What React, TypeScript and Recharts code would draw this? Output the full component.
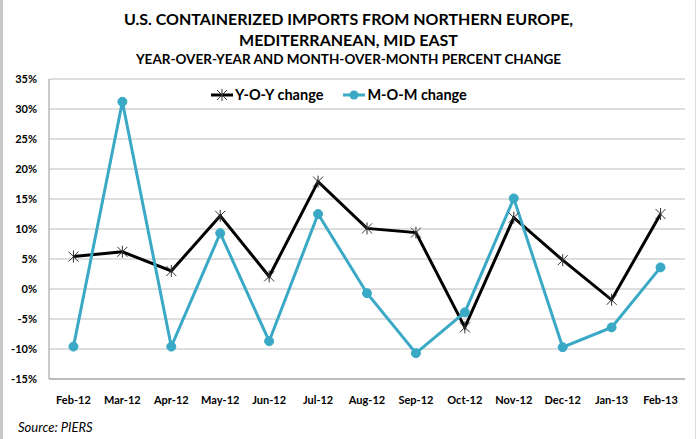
import {
  CartesianGrid,
  Line,
  LineChart,
  XAxis,
  YAxis,
} from "recharts";

const months = [
  "Feb-12",
  "Mar-12",
  "Apr-12",
  "May-12",
  "Jun-12",
  "Jul-12",
  "Aug-12",
  "Sep-12",
  "Oct-12",
  "Nov-12",
  "Dec-12",
  "Jan-13",
  "Feb-13",
];
const yoyChange = [5.4, 6.2, 3.0, 12.2, 2.1, 17.9, 10.1, 9.4, -6.4, 11.9, 4.8, -1.8, 12.5];
const momChange = [-9.6, 31.2, -9.6, 9.3, -8.7, 12.5, -0.7, -10.7, -3.9, 15.1, -9.7, -6.4, 3.6];
const yTicks = [-15, -10, -5, 0, 5, 10, 15, 20, 25, 30, 35];

const TEAL = "#3aa9c6";
const FONT = "Lato, 'Open Sans', sans-serif";

const data = months.map((month, i) => ({
  month,
  yoy: yoyChange[i],
  mom: momChange[i],
}));

function StarDot(props: any) {
  const { cx, cy } = props;
  if (cx == null || cy == null) return null;
  const r = 5;
  return (
    <g stroke="#333" strokeWidth={1}>
      <line x1={cx - r} y1={cy - r} x2={cx + r} y2={cy + r} />
      <line x1={cx - r} y1={cy + r} x2={cx + r} y2={cy - r} />
      <line x1={cx} y1={cy - r - 1} x2={cx} y2={cy + r + 1} />
    </g>
  );
}

function LegendItem({ label, color, star }: { label: string; color: string; star: boolean }) {
  return (
    <span style={{ display: "inline-flex", alignItems: "center", marginRight: 20 }}>
      <svg width={22} height={14} style={{ marginRight: 2 }}>
        <line x1={0} y1={7} x2={22} y2={7} stroke={color} strokeWidth={3} />
        {star ? (
          <StarDot cx={11} cy={7} />
        ) : (
          <circle cx={11} cy={7} r={4.5} fill={color} />
        )}
      </svg>
      {label}
    </span>
  );
}

export default function App() {
  return (
    <div
      style={{
        position: "absolute",
        left: 0,
        top: 0,
        width: 697,
        height: 439,
        background: "#fff",
        fontFamily: FONT,
        overflow: "hidden",
      }}
    >
      <div style={{ position: "absolute", left: 0, top: 0, width: 3, height: 439, background: "#c8c8c8" }} />
      <div style={{ position: "absolute", left: 695, top: 0, width: 1, height: 439, background: "#dcdcdc" }} />

      <div
        style={{
          position: "absolute",
          left: 0,
          width: 697,
          top: 8,
          textAlign: "center",
          fontWeight: 700,
          color: "#000",
        }}
      >
        <div style={{ fontSize: 16, lineHeight: "21px" }}>
          U.S. CONTAINERIZED IMPORTS FROM NORTHERN EUROPE,
        </div>
        <div style={{ fontSize: 16, lineHeight: "21px" }}>MEDITERRANEAN, MID EAST</div>
        <div style={{ fontSize: 13.5, lineHeight: "18px" }}>
          YEAR-OVER-YEAR AND MONTH-OVER-MONTH PERCENT CHANGE
        </div>
      </div>

      <LineChart
        width={697}
        height={439}
        data={data}
        margin={{ top: 79, right: 12, bottom: 30, left: 0 }}
      >
        <CartesianGrid vertical={false} stroke="#bdbdbd" />
        <XAxis
          dataKey="month"
          scale="band"
          axisLine={{ stroke: "#999" }}
          tickLine={false}
          tickMargin={11}
          interval={0}
          tick={{ fill: "#000", fontSize: 11, fontWeight: 700, fontFamily: FONT }}
        />
        <YAxis
          width={49}
          domain={[-15, 35]}
          ticks={yTicks}
          tickFormatter={(v: number) => `${v}%`}
          axisLine={{ stroke: "#999" }}
          tickLine={false}
          tickMargin={6}
          tick={{ fill: "#000", fontSize: 11, fontWeight: 700, fontFamily: FONT }}
        />
        <Line
          dataKey="yoy"
          name="Y-O-Y change"
          stroke="#000"
          strokeWidth={3}
          dot={<StarDot />}
          activeDot={false}
          isAnimationActive={false}
        />
        <Line
          dataKey="mom"
          name="M-O-M change"
          stroke={TEAL}
          strokeWidth={3}
          dot={{ r: 4.5, fill: TEAL, stroke: TEAL, strokeWidth: 1 }}
          activeDot={false}
          isAnimationActive={false}
        />
      </LineChart>

      <div
        style={{
          position: "absolute",
          left: 211,
          top: 86,
          fontWeight: 700,
          fontSize: 14.5,
          color: "#000",
          whiteSpace: "nowrap",
        }}
      >
        <LegendItem label="Y-O-Y change" color="#000" star />
        <LegendItem label="M-O-M change" color={TEAL} star={false} />
      </div>

      <div
        style={{
          position: "absolute",
          left: 18,
          top: 419,
          fontSize: 13,
          fontStyle: "italic",
          color: "#000",
        }}
      >
        Source: PIERS
      </div>
    </div>
  );
}
